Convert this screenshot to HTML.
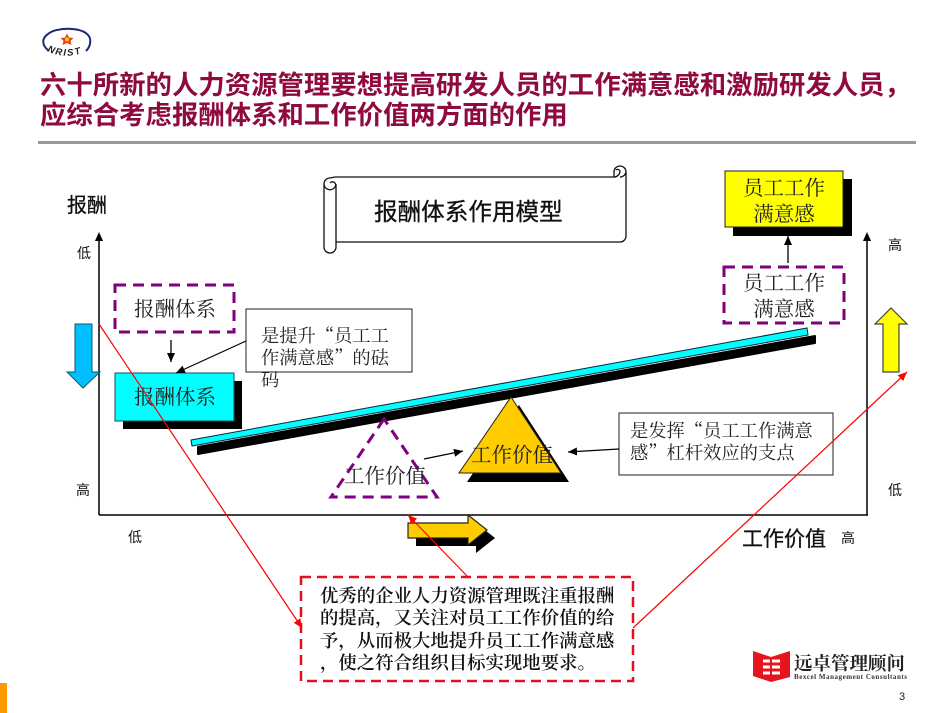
<!DOCTYPE html>
<html lang="zh"><head><meta charset="utf-8"><style>
html,body{margin:0;padding:0;background:#fff;width:950px;height:713px;overflow:hidden}
svg{display:block}
.t{font-family:"Noto Serif CJK SC","Liberation Serif",serif;fill:#222}
.s{font-family:"Liberation Sans","Noto Sans CJK SC",sans-serif;fill:#111}
.m{stroke:#111;stroke-width:.3}
.c{text-anchor:middle}
</style></head><body>
<svg width="950" height="713" viewBox="0 0 950 713" xmlns="http://www.w3.org/2000/svg">
<defs>
<marker id="b" markerUnits="userSpaceOnUse" markerWidth="10" markerHeight="10" refX="9" refY="4" orient="auto"><path d="M0 0L9 4L0 8Z" fill="#000"/></marker>
<marker id="r" markerUnits="userSpaceOnUse" markerWidth="10" markerHeight="10" refX="9" refY="4" orient="auto"><path d="M0 0L9 4L0 8Z" fill="#f00"/></marker>
<path id="np" d="M47 51Q67 61 90 50"/>
</defs>

<!-- NRIST logo -->
<path d="M49 51C41 45 42 38 48 34C56 27 80 27 87 34C92 38 91 46 86 51" fill="none" stroke="#1a2a72" stroke-width="2"/>
<polygon points="67,33.500 69,37.500 73.500,38 70.500,41 71.500,45 67,43 62.500,45 63.500,41 60.500,38 65,37.500" fill="#e8401c"/>
<circle cx="67" cy="39.500" r="2" fill="#fc0"/>
<text font-family="Liberation Sans,sans-serif" font-size="9.500" font-weight="bold" font-style="italic" fill="#222" letter-spacing="1.600"><textPath href="#np">NRIST</textPath></text>

<!-- Title -->
<text x="40" y="94" font-family="'Liberation Sans','Noto Sans CJK SC',sans-serif" font-size="26.400" font-weight="bold" fill="#8f0a3e">六十所新的人力资源管理要想提高研发人员的工作满意感和激励研发人员，</text>
<text x="40" y="124" font-family="'Liberation Sans','Noto Sans CJK SC',sans-serif" font-size="26.400" font-weight="bold" fill="#8f0a3e">应综合考虑报酬体系和工作价值两方面的作用</text>
<rect x="38" y="141" width="878" height="3" fill="#999"/>

<!-- Scroll -->
<g fill="#fff" stroke="#111" stroke-width="1.300">
<path d="M335 177H614V172a6 6 0 0 1 6-6a6 6 0 0 1 6 6V236a6 6 0 0 1-6 6H336V247a6 6 0 0 1-6 6a6 6 0 0 1-6-6V184a6 6 0 0 1 6-6Z"/>
<path d="M324 184a6 6 0 0 0 11 3a3 3 0 0 0-5-4M336 184V242M614 177a6 6 0 0 0 6-6a2.500 2.500 0 0 0-4-1M620 177a6 6 0 0 0 6-5" fill="none"/>
</g>
<text x="374" y="220" class="s m" font-size="23.600">报酬体系作用模型</text>

<!-- Axes -->
<g stroke="#000" stroke-width="1.500" fill="none">
<path d="M99 515V240M99 515H868M867 515V240"/>
</g>
<polygon points="99,232 95,241 103,241" fill="#000"/>
<polygon points="867,232 863,241 871,241" fill="#000"/>

<text x="67" y="212" class="s m" font-size="20">报酬</text>
<text x="84" y="258" class="s c" font-size="14">低</text>
<text x="895" y="250" class="s c" font-size="14">高</text>
<text x="83" y="495" class="s c" font-size="14">高</text>
<text x="895" y="495" class="s c" font-size="14">低</text>
<text x="135" y="542" class="s c" font-size="14">低</text>
<text x="848" y="543" class="s c" font-size="14">高</text>
<text x="742" y="546" class="s m" font-size="21">工作价值</text>

<!-- Blue arrow -->
<polygon points="75,324 92,324 92,372 100,372 83,388 67,372 75,372" fill="#00bfff" stroke="#0a5a6a" stroke-width="1"/>

<!-- Yellow arrow -->
<polygon points="883,372 899,372 899,324 907,324 891,308 875,324 883,324" fill="#ff0" stroke="#444" stroke-width="1.200"/>

<!-- Orange arrow -->
<polygon points="416,531 476,531 476,523 495,538 476,553 476,546 416,546" fill="#000"/>
<polygon points="408,523 468,523 468,515 487,530 468,545 468,538 408,538" fill="#fc0" stroke="#222" stroke-width="1.200"/>

<!-- Compensation boxes -->
<rect x="115" y="285" width="119" height="47" fill="none" stroke="#800080" stroke-width="3" stroke-dasharray="11 7"/>
<text x="175" y="316" class="t c" font-size="20.500">报酬体系</text>
<path d="M171 340V362" stroke="#000" stroke-width="1.300" marker-end="url(#b)"/>
<rect x="123" y="381" width="119" height="48" fill="#000"/>
<rect x="115" y="373" width="119" height="48" fill="#0ff" stroke="#0a5060" stroke-width="1"/>
<text x="175" y="404" class="t c" font-size="20.500">报酬体系</text>

<!-- Callout 1 -->
<rect x="246" y="309" width="166" height="63" fill="#fff" stroke="#222" stroke-width="1"/>
<path d="M246 341L176 373" stroke="#000" stroke-width="1.200" marker-end="url(#b)"/>
<text class="t" font-size="18.300"><tspan x="261" y="342">是提升“员工工</tspan><tspan x="261" y="364">作满意感”的砝</tspan><tspan x="261" y="386">码</tspan></text>

<!-- Beam -->
<polygon points="198,447 815,336 815,343 198,454" fill="#000" stroke="#000" stroke-width="2" stroke-linejoin="round"/>
<polygon points="191,440 807,328 808,335 192,446" fill="#0ff" stroke="#123" stroke-width="1"/>

<!-- Triangles -->
<path d="M384 419L331 497H437Z" fill="none" stroke="#800080" stroke-width="3" stroke-dasharray="11 7"/>
<text x="385" y="483" class="t c" font-size="20.500">工作价值</text>
<path d="M424 459L463 451" stroke="#000" stroke-width="1.200" marker-end="url(#b)"/>
<polygon points="519,405 569,482 467,482" fill="#000"/>
<polygon points="511,397 561,473 459,473" fill="#fc0" stroke="#222" stroke-width="1"/>
<text x="512" y="462" class="t c" font-size="20.500">工作价值</text>

<!-- Callout 2 -->
<rect x="619" y="413" width="214" height="62" fill="#fff" stroke="#222" stroke-width="1"/>
<path d="M619 449L568 452" stroke="#000" stroke-width="1.200" marker-end="url(#b)"/>
<text class="t" font-size="18.300"><tspan x="630" y="437">是发挥“员工工作满意</tspan><tspan x="630" y="459">感”杠杆效应的支点</tspan></text>

<!-- Satisfaction -->
<rect x="733" y="179" width="119" height="57" fill="#000"/>
<rect x="725" y="171" width="118" height="56" fill="#ff0" stroke="#222" stroke-width="1"/>
<text class="t c" font-size="20.500"><tspan x="784" y="195">员工工作</tspan><tspan x="784" y="221">满意感</tspan></text>
<path d="M788 263V236" stroke="#000" stroke-width="1.300" marker-end="url(#b)"/>
<rect x="724" y="267" width="120" height="56" fill="none" stroke="#800080" stroke-width="3" stroke-dasharray="11 7"/>
<text class="t c" font-size="20.500"><tspan x="784" y="290">员工工作</tspan><tspan x="784" y="316">满意感</tspan></text>

<!-- Red note -->
<rect x="301" y="577" width="332" height="104" fill="#fff" stroke="#e01020" stroke-width="2.500" stroke-dasharray="10 6"/>
<path d="M99 324L302 628" stroke="#f00" stroke-width="1.200" fill="none" marker-end="url(#r)"/>
<path d="M468 577L408 515" stroke="#f00" stroke-width="1.200" fill="none" marker-end="url(#r)"/>
<path d="M633 628L907 372" stroke="#f00" stroke-width="1.200" fill="none" marker-end="url(#r)"/>
<text font-family="'Noto Serif CJK SC','Liberation Serif',serif" font-size="18.400" font-weight="600" fill="#111"><tspan x="320" y="602">优秀的企业人力资源管理既注重报酬</tspan><tspan x="320" y="624">的提高，又关注对员工工作价值的给</tspan><tspan x="320" y="647">予，从而极大地提升员工工作满意感</tspan><tspan x="320" y="669">，使之符合组织目标实现地要求。</tspan></text>

<!-- Footer logo -->
<path d="M753 651L771 657L790 651V677L771 682L753 676Z" fill="#e5141d"/>
<path d="M763 661H780M763 667H780M763 673H780" stroke="#fff" stroke-width="3" fill="none"/>
<path d="M771 659V676" stroke="#e5141d" stroke-width="2"/>
<text x="794" y="670" font-family="'Liberation Serif','Noto Serif CJK SC',serif" font-size="18.500" font-weight="bold" fill="#222">远卓管理顾问</text>
<text x="794" y="679" font-family="'Liberation Serif',serif" font-size="7" font-weight="bold" fill="#333" textLength="113">Bexcel Management Consultants</text>
<text x="899" y="700" font-family="'Liberation Sans',sans-serif" font-size="11" fill="#222">3</text>
<rect x="0" y="683" width="7" height="30" fill="#f90"/>
</svg>
</body></html>
